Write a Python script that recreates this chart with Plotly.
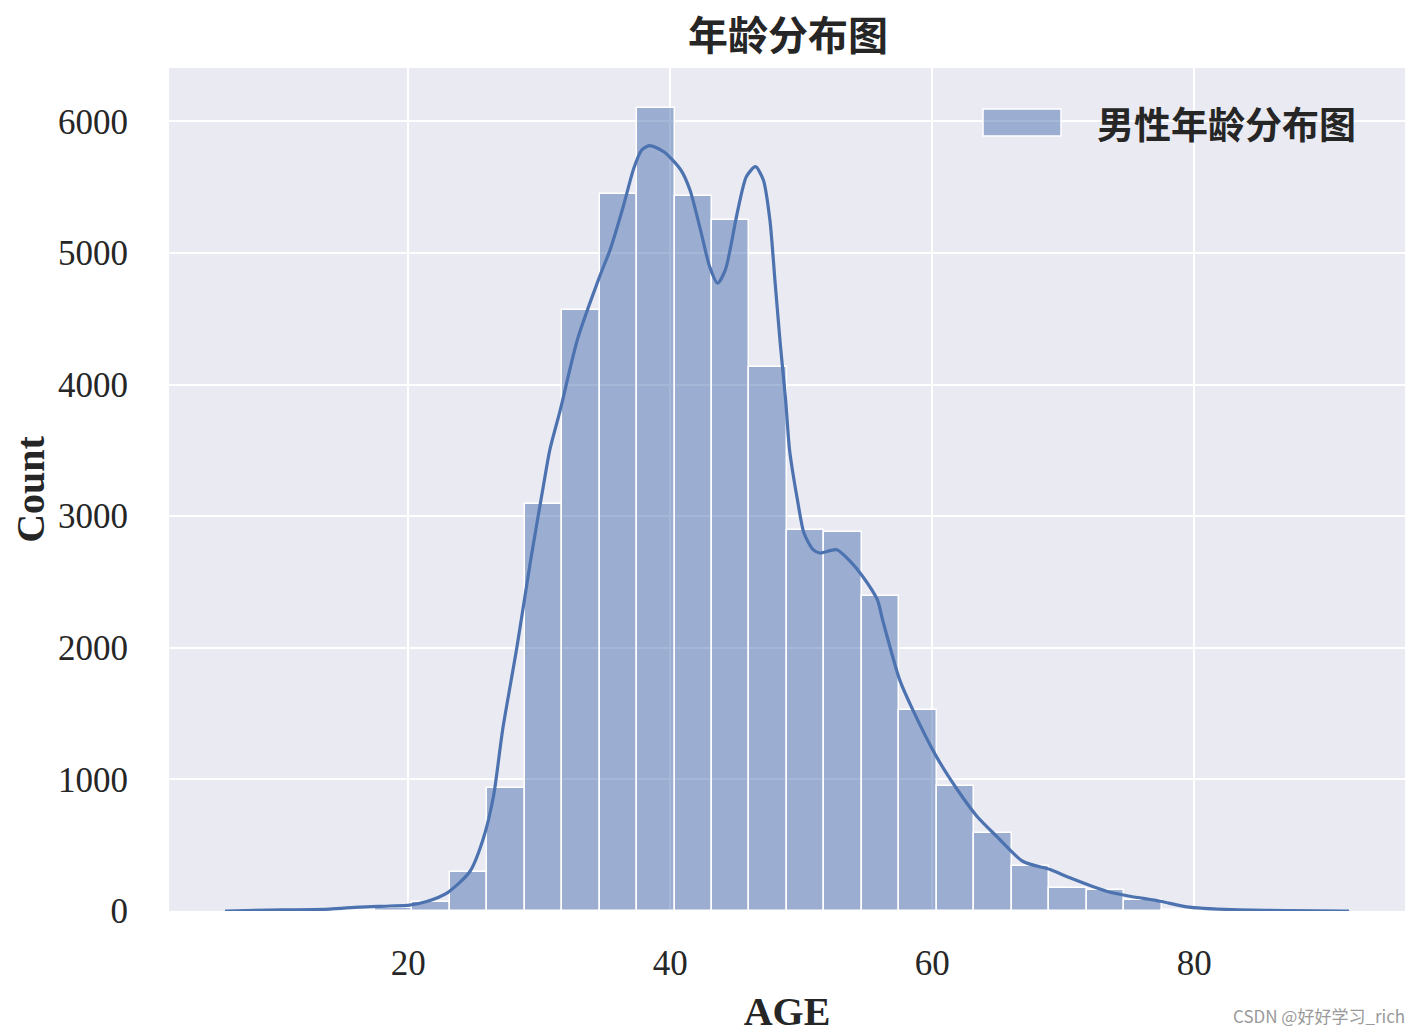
import plotly.graph_objects as go

# ---------------- data ----------------
bin_edges = [6.0, 8.86, 11.72, 14.58, 17.44, 20.3, 23.16, 26.02, 28.88, 31.74,
             34.6, 37.46, 40.32, 43.18, 46.04, 48.9, 51.76, 54.62, 57.48, 60.34,
             63.2, 66.06, 68.92, 71.78, 74.64, 77.5, 80.36, 83.22, 86.08, 88.94, 91.8]
counts = [1, 3, 5, 10, 25, 70, 298, 935, 3094, 4567, 5448, 6099, 5433, 5251, 4137,
          2897, 2882, 2396, 1530, 953, 589, 345, 176, 163, 80, 10, 5, 3, 1, 1]

kde_age = [6.0, 10.4, 14.0, 16.3, 18.6, 20.1, 21.4, 23.0, 24.7, 25.7, 26.5, 27.2,
           28.3, 29.3, 30.3, 30.8, 31.6, 32.9, 34.6, 35.4, 36.4, 37.2, 37.8, 38.4,
           39.5, 40.8, 41.5, 42.3, 43.0, 43.6, 44.2, 45.1, 45.8, 46.5, 47.1, 47.6,
           48.0, 48.4, 48.8, 49.1, 49.7, 50.2, 50.9, 51.4, 52.7, 53.7, 54.7, 55.8,
           56.2, 57.5, 58.5, 60.3, 61.9, 63.4, 64.9, 66.9, 69.0, 70.5, 73.3, 75.1,
           77.4, 79.4, 82.9, 87.3, 91.8]
kde_count = [0, 8, 15, 30, 38, 45, 72, 140, 300, 543, 872, 1378,
             2011, 2644, 3225, 3504, 3808, 4339, 4820, 5023, 5351, 5640, 5780, 5815,
             5769, 5630, 5478, 5175, 4896, 4770, 4871, 5301, 5579, 5655, 5554, 5250,
             4772, 4300, 3884, 3504, 3125, 2872, 2745, 2720, 2745, 2660, 2540, 2365,
             2213, 1758, 1530, 1175, 923, 720, 568, 378, 315, 252, 150, 112,
             74, 32, 10, 3, 0]

x_ticks = [20, 40, 60, 80]
y_ticks = [0, 1000, 2000, 3000, 4000, 5000, 6000]

title_text = "年龄分布图"
legend_text = "男性年龄分布图"
x_title = "AGE"
y_title = "Count"
watermark = "CSDN @好好学习_rich"

# ---------------- figure ----------------
centers = [(a + b) / 2 for a, b in zip(bin_edges[:-1], bin_edges[1:])]
widths = [b - a for a, b in zip(bin_edges[:-1], bin_edges[1:])]

BLUE = "#4c72b0"
BAR_FILL = "rgba(76,114,176,0.5)"
SERIF = "Liberation Serif, Noto Sans CJK SC, serif"
CJK = "Noto Sans CJK SC, Liberation Serif, sans-serif"
TXT = "#262626"

fig = go.Figure()
fig.add_trace(go.Bar(
    x=centers, y=counts, width=widths, name=legend_text,
    marker=dict(color=BAR_FILL, line=dict(color="white", width=1.5)),
    showlegend=False,
))
fig.add_trace(go.Scatter(
    x=kde_age, y=kde_count, mode="lines",
    line=dict(color=BLUE, width=3.2, shape="spline", smoothing=0.7),
    showlegend=False, hoverinfo="skip",
))

OFF = 8  # page body margin
W, H = 1414, 1026
L, T = 169 - OFF, 68 - OFF
pw, ph = 1236, 843
R, B = W - L - pw, H - T - ph

def px_x(p):  # page pixel -> paper x
    return (p - OFF - L) / pw

def px_y(p):  # page pixel -> paper y
    return (T + ph - (p - OFF)) / ph

# manual legend (seaborn-like wide patch)
fig.add_shape(type="rect", xref="paper", yref="paper",
              x0=px_x(983), x1=px_x(1061), y0=px_y(136), y1=px_y(109),
              fillcolor=BAR_FILL, line=dict(color="white", width=1.5), layer="above")
fig.add_annotation(xref="paper", yref="paper", x=px_x(1095), y=px_y(123),
                   xanchor="left", yanchor="middle", showarrow=False,
                   text="<b>" + legend_text + "</b>",
                   font=dict(family=CJK, size=37, color=TXT))
fig.add_annotation(xref="paper", yref="paper", x=px_x(1407), y=px_y(1015),
                   xanchor="right", yanchor="middle", showarrow=False,
                   text=watermark,
                   font=dict(family="Noto Sans CJK SC, sans-serif", size=17, color="#9a9a9a"))

fig.update_layout(
    width=W, height=H,
    margin=dict(l=L, r=R, t=T, b=B, autoexpand=False),
    paper_bgcolor="white", plot_bgcolor="#eaeaf2",
    bargap=0,
    title=dict(text="<b>" + title_text + "</b>", x=px_x(788), xref="paper",
               y=1 - (36 - OFF) / H, yref="container", xanchor="center", yanchor="middle",
               font=dict(family=CJK, size=40, color=TXT)),
    xaxis=dict(range=[1.73, 96.08], tickvals=x_ticks, ticktext=[str(v) for v in x_ticks],
               showgrid=True, gridcolor="white", gridwidth=2, zeroline=False,
               showline=False, ticks="", ticklabelstandoff=28, automargin=False,
               tickfont=dict(family=SERIF, size=35, color=TXT),
               title=dict(text="<b>" + x_title + "</b>", standoff=20,
                          font=dict(family=SERIF, size=40, color=TXT))),
    yaxis=dict(range=[0, 6405], tickvals=y_ticks, ticktext=[str(v) for v in y_ticks],
               showgrid=True, gridcolor="white", gridwidth=2, zeroline=False,
               showline=False, ticks="", ticklabelstandoff=40, automargin=False,
               tickfont=dict(family=SERIF, size=35, color=TXT),
               title=dict(text="<b>" + y_title + "</b>", standoff=24,
                          font=dict(family=SERIF, size=40, color=TXT))),
    font=dict(family=SERIF, color=TXT),
)

fig.write_html("out.html")
